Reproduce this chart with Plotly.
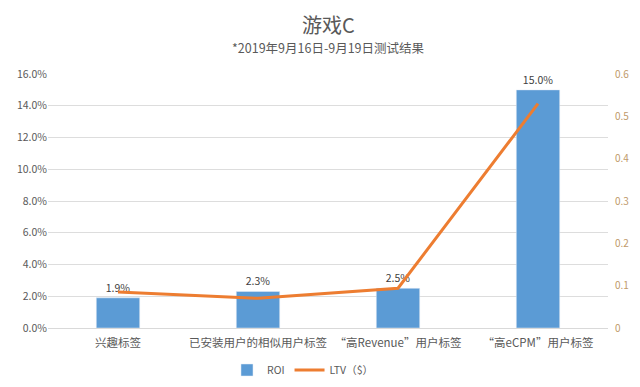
import plotly.graph_objects as go

categories = ["兴趣标签", "已安装用户的相似用户标签", "“高Revenue”用户标签", "“高eCPM”用户标签"]
roi = [1.9, 2.3, 2.5, 15.0]
ltv = [0.085, 0.07, 0.094, 0.53]
left_ticks = [0, 2, 4, 6, 8, 10, 12, 14, 16]
right_ticks = [0, 0.1, 0.2, 0.3, 0.4, 0.5, 0.6]

FONT = "Noto Sans CJK SC"
OFF = 8  # page body margin offset
W, H = 640 - OFF, 387 - OFF
T, B, L, R = 74 - OFF, 59, 48 - OFF, 32
plot_h = H - T - B

fig = go.Figure()
fig.add_trace(go.Bar(
    x=categories, y=roi, name="ROI",
    marker=dict(color="#5B9BD5"), width=0.31,
    text=[f"{v:.1f}%" for v in roi], textposition="outside",
    textfont=dict(size=10.5, color="#404040", family=FONT),
    cliponaxis=False,
))
fig.add_trace(go.Scatter(
    x=categories, y=ltv, name="LTV（$）", yaxis="y2",
    mode="lines", line=dict(color="#ED7D31", width=3),
))

fig.update_layout(
    width=W, height=H,
    margin=dict(l=L, r=R, t=T, b=B, autoexpand=False),
    paper_bgcolor="white", plot_bgcolor="white",
    font=dict(family=FONT, color="#595959", size=11),
    showlegend=True,
    legend=dict(orientation="h", x=(210 - OFF) / W, xanchor="left", yref="container",
                y=1 - (370 - OFF) / H, yanchor="middle",
                font=dict(size=10.5, color="#595959"), itemwidth=30,
                tracegroupgap=0),
    xaxis=dict(showgrid=False, showline=True, linecolor="#D9D9D9",
               ticks="outside", ticklen=4, tickcolor="rgba(0,0,0,0)",
               tickfont=dict(size=11.5, color="#595959")),
    yaxis=dict(range=[0, 16], tickvals=left_ticks,
               ticktext=[f"{v:.1f}%" for v in left_ticks],
               showgrid=True, gridcolor="#DDDDDD", zeroline=False,
               tickfont=dict(size=10.5, color="#595959")),
    yaxis2=dict(range=[0, 0.6], tickvals=right_ticks,
                ticktext=["0", "0.1", "0.2", "0.3", "0.4", "0.5", "0.6"],
                overlaying="y", side="right", showgrid=False, zeroline=False,
                ticks="outside", ticklen=4, tickcolor="rgba(0,0,0,0)",
                tickfont=dict(size=10, color="#C09A6B")),
    bargap=0.69,
    annotations=[
        dict(text="游戏C", x=0.5, y=1 + (T - (25 - OFF)) / plot_h, xref="paper", yref="paper",
             yanchor="middle", showarrow=False,
             font=dict(size=20, color="#595959", family=FONT)),
        dict(text="*2019年9月16日-9月19日测试结果", x=0.5, y=1 + (T - (48 - OFF)) / plot_h,
             xref="paper", yref="paper", yanchor="middle",
             showarrow=False, font=dict(size=12.5, color="#595959", family=FONT)),
    ],
)

fig.write_html("out.html")
